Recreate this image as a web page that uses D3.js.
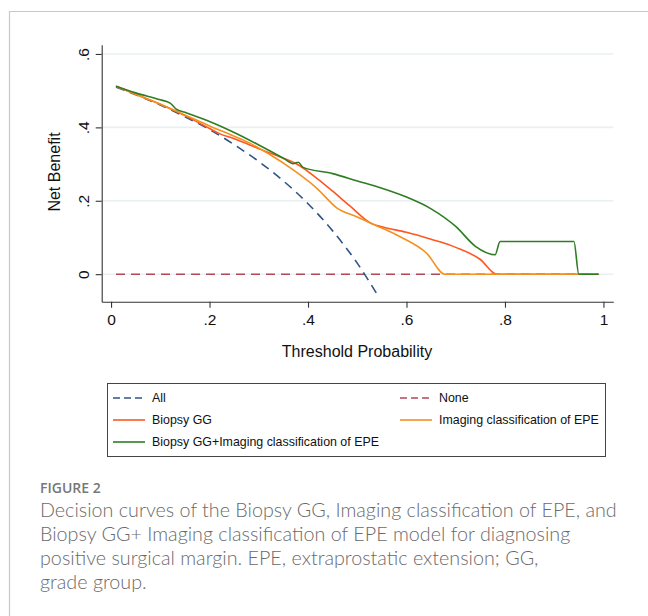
<!DOCTYPE html>
<html><head><meta charset="utf-8">
<script src="https://cdn.jsdelivr.net/npm/d3@7"></script>
<style>
html,body{margin:0;padding:0;background:#fff;}
svg{display:block;}
</style></head>
<body>
<svg id="chart" width="648" height="616"></svg>
<script>
// ---- data ----
const xTicks = [0, 0.2, 0.4, 0.6, 0.8, 1];
const xTickLabels = ["0", ".2", ".4", ".6", ".8", "1"];
const yTicks = [0, 0.2, 0.4, 0.6];
const yTickLabels = ["0", ".2", ".4", ".6"];

const allT = [0.01,0.05,0.1,0.15,0.2,0.25,0.3,0.35,0.4,0.45,0.5,0.54];
const allV = [0.510,0.489,0.461,0.429,0.394,0.353,0.307,0.254,0.192,0.118,0.030,-0.054];

const noneT = [0.01, 0.99];
const noneV = [0, 0];

const biopsyT = [0.01,0.05,0.1,0.15,0.2,0.22,0.25,0.282,0.3,0.35,0.377,0.42,0.45,0.485,0.53,0.55,0.6,0.65,0.7,0.75,0.783,0.99];
const biopsyV = [0.512,0.490,0.463,0.432,0.397,0.383,0.369,0.352,0.342,0.316,0.300,0.259,0.226,0.186,0.137,0.129,0.114,0.095,0.073,0.040,0.0,0.0];

const imagingT = [0.01,0.05,0.1,0.15,0.2,0.25,0.282,0.32,0.37,0.418,0.459,0.5,0.536,0.587,0.641,0.678,0.99];
const imagingV = [0.512,0.490,0.463,0.434,0.404,0.376,0.357,0.328,0.284,0.234,0.180,0.156,0.134,0.102,0.057,0.0,0.0];

const comboT = [0.01,0.05,0.1,0.12,0.133,0.15,0.2,0.25,0.3,0.35,0.37,0.38,0.39,0.45,0.5,0.55,0.6,0.65,0.7,0.74,0.78,0.79,0.94,0.95,0.99];
const comboV = [0.512,0.494,0.475,0.466,0.449,0.441,0.416,0.386,0.352,0.316,0.301,0.305,0.291,0.274,0.254,0.234,0.210,0.178,0.130,0.076,0.053,0.089,0.089,0.0,0.0];

const seriesNames = ["All","None","Biopsy GG","Imaging classification of EPE","Biopsy GG+Imaging classification of EPE"];

const captionTitle = "FIGURE 2";
const captionLines = [
  "Decision curves of the Biopsy GG, Imaging classification of EPE, and",
  "Biopsy GG+ Imaging classification of EPE model for diagnosing",
  "positive surgical margin. EPE, extraprostatic extension; GG,",
  "grade group."
];

// ---- drawing ----
const svg = d3.select("#chart");
const font = "'Liberation Sans', Arial, sans-serif";

// frame
svg.append("path").attr("d","M9.5,616 V11.5 H648").attr("fill","none").attr("stroke","#c9c9c9").attr("stroke-width",1.2);

const x = d3.scaleLinear().domain([-0.019, 1.02]).range([101.7, 613.3]);
const y = d3.scaleLinear().domain([-0.075, 0.625]).range([301.7, 44.8]);

// gridlines
svg.append("g").selectAll("line").data(yTicks).join("line")
  .attr("x1", x.range()[0]).attr("x2", x.range()[1])
  .attr("y1", d=>y(d)).attr("y2", d=>y(d))
  .attr("stroke","#e9f0f2").attr("stroke-width",1.6);

// axes
const xAxis = d3.axisBottom(x).tickValues(xTicks).tickFormat((d,i)=>xTickLabels[i]).tickSize(6).tickSizeOuter(0).tickPadding(4);
const gx = svg.append("g").attr("transform",`translate(0,${y.range()[0]})`).call(xAxis);
const yAxis = d3.axisLeft(y).tickValues(yTicks).tickFormat((d,i)=>yTickLabels[i]).tickSize(6).tickSizeOuter(0).tickPadding(4);
const gy = svg.append("g").attr("transform",`translate(${x.range()[0]},0)`).call(yAxis);
[gx,gy].forEach(g=>{
  g.select(".domain").attr("stroke","#333").attr("stroke-width",1.1);
  g.selectAll(".tick line").attr("stroke","#333").attr("stroke-width",1.1);
  g.selectAll("text").attr("font-family",font).attr("font-size",15.5).attr("fill","#111");
});
gx.selectAll("text").attr("dy","0.85em");
gy.selectAll(".tick text").attr("text-anchor","middle").attr("dy","0.35em")
  .attr("transform","translate(-18,0) rotate(-90)").attr("x",0);

// axis titles
svg.append("text").attr("x",357).attr("y",357).attr("text-anchor","middle")
  .attr("font-family",font).attr("font-size",16).attr("fill","#111").text("Threshold Probability");
svg.append("text").attr("transform","translate(60,172) rotate(-90)").attr("text-anchor","middle")
  .attr("font-family",font).attr("font-size",16).attr("fill","#111").text("Net Benefit");

const line = d3.line().x(d=>x(d[0])).y(d=>y(d[1])).curve(d3.curveMonotoneX);
const zip = (a,b)=>a.map((v,i)=>[v,b[i]]);

const series = [
  {t:noneT, v:noneV, color:"#b04a57", dash:"9,6", w:1.6},
  {t:allT, v:allV, color:"#2f5485", dash:"9,6", w:1.6},
  {t:biopsyT, v:biopsyV, color:"#ff5722", dash:null, w:1.6},
  {t:imagingT, v:imagingV, color:"#f5901e", dash:null, w:1.6},
  {t:comboT, v:comboV, color:"#2e7d22", dash:null, w:1.6}
];
const legendOrder = [1,0,2,3,4];
series.forEach(s=>{
  svg.append("path").datum(zip(s.t,s.v)).attr("d",line)
    .attr("fill","none").attr("stroke",s.color).attr("stroke-width",s.w)
    .attr("stroke-dasharray",s.dash).attr("stroke-linejoin","round");
});

// legend
svg.append("rect").attr("x",107.5).attr("y",383.5).attr("width",498).attr("height",73)
  .attr("fill","#fff").attr("stroke","#444").attr("stroke-width",1);
const legPos = [[113,398],[400,398],[113,420],[400,420],[113,442]];
legendOrder.forEach((si,i)=>{
  const s = series[si];
  const [lx,ly] = legPos[i];
  svg.append("line").attr("x1",lx).attr("x2",lx+32).attr("y1",ly).attr("y2",ly)
    .attr("stroke",s.color).attr("stroke-width",1.6).attr("stroke-dasharray", s.dash? "7,4":null);
  svg.append("text").attr("x",lx+39).attr("y",ly).attr("dy","0.35em")
    .attr("font-family",font).attr("font-size",12.4).attr("fill","#111").text(seriesNames[i]);
});

// caption
svg.append("text").attr("x",40).attr("y",493).attr("font-family","'Open Sans', sans-serif")
  .attr("font-weight",600).attr("font-size",14).attr("fill","#777").text(captionTitle);
const capG = svg.append("g");
const capTexts = capG.selectAll("text").data(captionLines).join("text")
  .attr("x",40).attr("y",(d,i)=>517+i*24)
  .attr("font-family","Lato, 'Open Sans', sans-serif").attr("font-weight",300)
  .attr("font-size",18).attr("fill","#6a6a6a").text(d=>d);
// fit first line width to ~577px
const w0 = capTexts.node().getComputedTextLength();
const fs = 18*577/w0;
capTexts.attr("font-size",fs);
</script>
</body></html>
